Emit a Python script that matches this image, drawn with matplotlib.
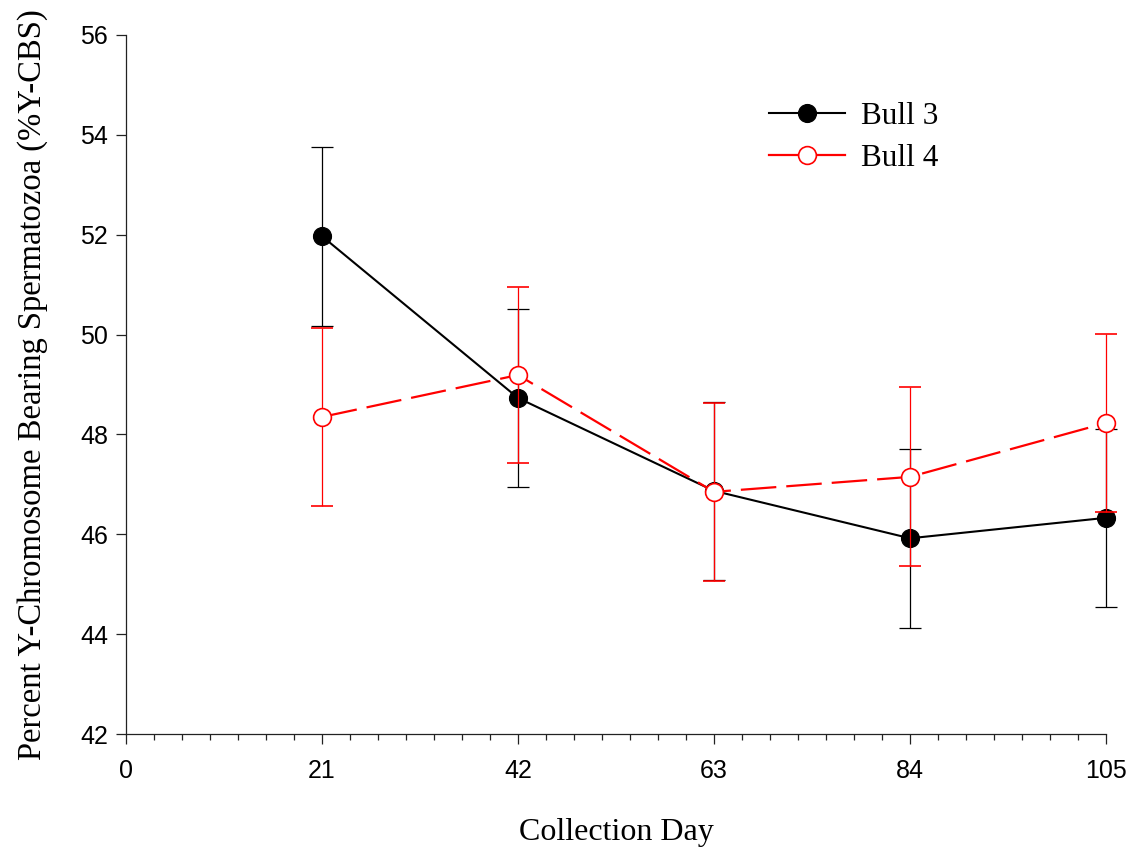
import matplotlib
matplotlib.use("Agg")
import matplotlib.pyplot as plt
from matplotlib.lines import Line2D
from matplotlib.ticker import MultipleLocator

# Collection days and mean %Y-CBS with standard errors
days = [21, 42, 63, 84, 105]
bull3_mean = [51.97, 48.73, 46.87, 45.92, 46.33]
bull3_se = [1.79, 1.78, 1.78, 1.79, 1.78]
bull4_mean = [48.35, 49.19, 46.85, 47.15, 48.23]
bull4_se = [1.78, 1.77, 1.78, 1.79, 1.78]

x_ticks = [0, 21, 42, 63, 84, 105]
y_ticks = [42, 44, 46, 48, 50, 52, 54, 56]

serif = "Liberation Serif"
sans = "Liberation Sans"

fig = plt.figure(figsize=(11.36, 8.55), dpi=100)
ax = fig.add_axes([0.1109, 0.1415, 0.8627, 0.8176])

style3 = dict(color="black", lw=1.5, marker="o", markersize=12.8,
              markerfacecolor="black", markeredgecolor="black")
style4 = dict(color="red", lw=1.6, marker="o", markersize=12.8,
              markerfacecolor="white", markeredgecolor="red",
              markeredgewidth=1.2)

eb3 = ax.errorbar(days, bull3_mean, yerr=bull3_se, ecolor="black",
                  elinewidth=0.9, capsize=8, capthick=0.9, zorder=2, **style3)
eb4 = ax.errorbar(days, bull4_mean, yerr=bull4_se, ecolor="red",
                  elinewidth=0.9, capsize=8, capthick=0.9, zorder=3,
                  dashes=(16, 4.5), **style4)
for eb in (eb3, eb4):
    for art in eb.get_children():
        art.set_clip_on(False)

ax.set_xlim(0, 105)
ax.set_ylim(42, 56)
ax.set_xticks(x_ticks)
ax.set_yticks(y_ticks)
ax.xaxis.set_minor_locator(MultipleLocator(3))

for side in ("top", "right"):
    ax.spines[side].set_visible(False)
for side in ("left", "bottom"):
    ax.spines[side].set_linewidth(0.9)
    ax.spines[side].set_color("#222222")

ax.tick_params(axis="both", which="major", direction="out", length=7,
               width=0.9, color="#222222", labelsize=18)
ax.tick_params(axis="x", which="minor", direction="out", length=4.5,
               width=0.9, color="#222222")
ax.tick_params(axis="x", which="major", pad=11)
ax.tick_params(axis="y", which="major", pad=6)
for lab in ax.get_xticklabels() + ax.get_yticklabels():
    lab.set_fontfamily(sans)

ax.set_xlabel("Collection Day", fontsize=23, fontfamily=serif, labelpad=25)
ax.set_ylabel("Percent Y-Chromosome Bearing Spermatozoa (%Y-CBS)",
              fontsize=23.5, fontfamily=serif)
ax.yaxis.set_label_coords(-0.08, 0.5)

handles = [Line2D([], [], **style3), Line2D([], [], **style4)]
ax.legend(handles, ["Bull 3", "Bull 4"], loc="upper left",
          bbox_to_anchor=(0.627, 0.945), frameon=False,
          prop={"family": serif, "size": 22.5}, handlelength=2.45,
          handletextpad=0.5, labelspacing=0.42)

fig.savefig("out.png", dpi=100)
